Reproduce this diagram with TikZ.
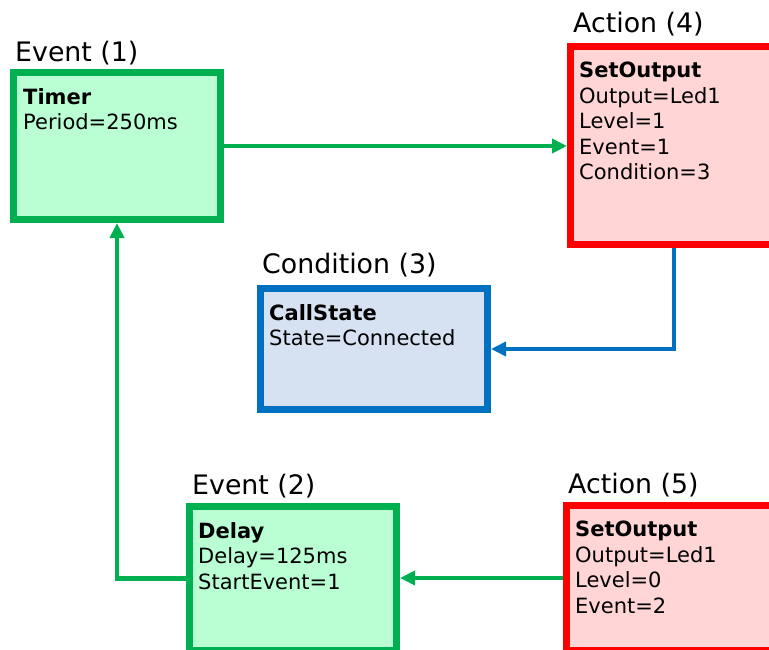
\documentclass[tikz,border=0pt]{standalone}
\usepackage{fontspec}
\setmainfont{DejaVu Sans}
\usetikzlibrary{arrows.meta,positioning}

\definecolor{evgreen}{HTML}{00B050}
\definecolor{evfill}{HTML}{B9FFD3}
\definecolor{actred}{HTML}{FF0000}
\definecolor{actfill}{HTML}{FFD5D5}
\definecolor{condblue}{HTML}{0070C0}
\definecolor{condfill}{HTML}{D6E2F2}

\begin{document}
\begin{tikzpicture}[x=1pt, y=-1pt,
    blk/.style={draw, line width=7pt, inner sep=0pt, minimum width=207pt, minimum height=147pt},
    event/.style={blk, draw=evgreen, fill=evfill},
    action/.style={blk, draw=actred, fill=actfill, minimum width=260pt},
    cond/.style={blk, draw=condblue, fill=condfill},
    title/.style={anchor=base west, inner sep=0pt, font=\fontsize{26.8}{32}\selectfont},
    body/.style={anchor=north west, inner sep=0pt, align=left, font=\fontsize{21}{25.5}\selectfont},
    link/.style={line width=4.5pt, -{Triangle[length=15pt, width=14pt]}}]

    % Fix the frame
    \useasboundingbox (0,0) rectangle (769,650);
    \clip (0,0) rectangle (769,650);

    % Blocks (the action blocks run past the right edge)
    \node[event] (timer) at (117,146) {};
    \node[action, minimum height=198pt] (act4) at (700.5,145.5) {};
    \node[cond, minimum width=227pt, minimum height=121pt] (cond) at (374,349) {};
    \node[event, minimum height=144pt] (delay) at (293,578.5) {};
    \node[action, minimum height=145pt] (act5) at (696.5,578) {};

    % Titles
    \node[title] (timer title) at ([shift={(5,-7)}]timer.north west) {Event (1)};
    \node[title] (act4 title) at ([shift={(6,-10)}]act4.north west) {Action (4)};
    \node[title] (cond title) at ([shift={(5,-12)}]cond.north west) {Condition (3)};
    \node[title] (delay title) at ([shift={(6,-9)}]delay.north west) {Event (2)};
    \node[title] (act5 title) at ([shift={(5,-9)}]act5.north west) {Action (5)};

    % Contents
    \node[body] (timer text) at ([shift={(13,19)}]timer.north west) {\textbf{Timer}\\Period=250ms};
    \node[body] (act4 text) at ([shift={(12,19)}]act4.north west) {\textbf{SetOutput}\\Output=Led1\\Level=1\\Event=1\\Condition=3};
    \node[body] (cond text) at ([shift={(12,19)}]cond.north west) {\textbf{CallState}\\State=Connected};
    \node[body] (delay text) at ([shift={(12,19)}]delay.north west) {\textbf{Delay}\\Delay=125ms\\StartEvent=1};
    \node[body] (act5 text) at ([shift={(12,19)}]act5.north west) {\textbf{SetOutput}\\Output=Led1\\Level=0\\Event=2};

    % Links
    \draw[link, evgreen] (timer.east) -- (timer.east -| act4.west);
    \draw[link, condblue] ([xshift=107pt]act4.south west) |- (cond.east);
    \draw[link, evgreen] (act5.west) -- (act5.west -| delay.east);
    \draw[link, evgreen] (delay.west) -| (timer.south);
\end{tikzpicture}
\end{document}
